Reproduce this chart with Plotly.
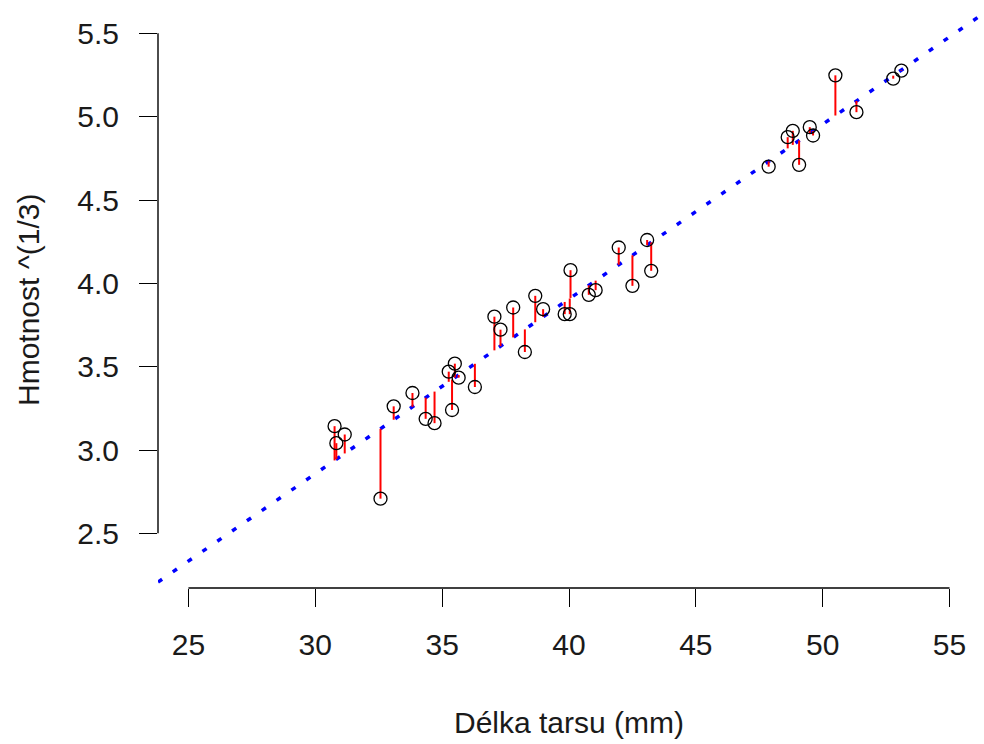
import numpy as np
import plotly.graph_objects as go

# ---- data ----
tarsus_mm = [30.76, 31.16, 30.83, 32.57, 33.09, 33.83, 34.35, 34.70,
             35.26, 35.50, 35.65, 35.39, 36.29, 37.06, 37.30, 37.80, 38.26, 38.67, 38.98,
             40.06, 39.83, 40.03, 40.78, 41.05, 41.96, 42.50, 43.08, 43.24,
             47.87, 49.07, 48.62, 48.82, 49.49, 49.62, 50.50, 51.33, 52.78, 53.10]
mass_cbrt = [3.143, 3.093, 3.041, 2.708, 3.262, 3.342, 3.187, 3.161,
             3.470, 3.518, 3.434, 3.240, 3.378, 3.800, 3.722, 3.855, 3.588, 3.925, 3.845,
             4.079, 3.815, 3.815, 3.931, 3.959, 4.215, 3.985, 4.260, 4.075,
             4.700, 4.711, 4.877, 4.915, 4.937, 4.887, 5.248, 5.027, 5.228, 5.276]
x_ticks = [25, 30, 35, 40, 45, 50, 55]
y_ticks = [2.5, 3.0, 3.5, 4.0, 4.5, 5.0, 5.5]
x_title = "Délka tarsu (mm)"
y_title = "Hmotnost ^(1/3)"

x_range = [23.8, 56.2]
y_range = [2.172, 5.628]

x = np.array(tarsus_mm)
y = np.array(mass_cbrt)
slope, intercept = np.polyfit(x, y, 1)
fitted = intercept + slope * x

FONT = "Liberation Sans, Arial, sans-serif"
fig = go.Figure()

# regression line (abline)
lx = np.array(x_range)
fig.add_trace(go.Scatter(x=lx, y=intercept + slope * lx, mode="lines",
                         line=dict(color="blue", width=3.5, dash="5px,13px"),
                         hoverinfo="skip", showlegend=False))

# residual segments
sx, sy = [], []
for xi, yi, fi in zip(x, y, fitted):
    sx += [xi, xi, None]
    sy += [yi, fi, None]
fig.add_trace(go.Scatter(x=sx, y=sy, mode="lines",
                         line=dict(color="red", width=2),
                         hoverinfo="skip", showlegend=False))

# points
fig.add_trace(go.Scatter(x=x, y=y, mode="markers",
                         marker=dict(symbol="circle-open", size=13,
                                     line=dict(color="black", width=1.3), color="black"),
                         showlegend=False))

axis_font = dict(family=FONT, size=30, color="#1a1a1a")
fig.update_xaxes(range=x_range, tickvals=x_ticks, ticktext=[str(v) for v in x_ticks],
                 ticks="outside", ticklen=18, tickwidth=1.4, tickcolor="black",
                 showline=False, showgrid=False, zeroline=False,
                 tickfont=axis_font, ticklabelstandoff=12)
fig.update_yaxes(range=y_range, tickvals=y_ticks, ticktext=[f"{v:.1f}" for v in y_ticks],
                 ticks="outside", ticklen=18, tickwidth=1.4, tickcolor="black",
                 showline=False, showgrid=False, zeroline=False,
                 tickfont=axis_font, ticklabelstandoff=14)

# R-style axis lines spanning first to last tick
fig.add_shape(type="line", xref="x", yref="paper", x0=x_ticks[0], x1=x_ticks[-1],
              y0=0, y1=0, line=dict(color="black", width=1.4))
fig.add_shape(type="line", xref="paper", yref="y", x0=0, x1=0,
              y0=y_ticks[0], y1=y_ticks[-1], line=dict(color="black", width=1.4))

fig.add_annotation(text=x_title, xref="paper", yref="paper", x=0.5, y=0,
                   xanchor="center", yanchor="middle", yshift=-134, showarrow=False,
                   font=axis_font)
fig.add_annotation(text=y_title, xref="paper", yref="paper", x=0, y=0.5,
                   xanchor="center", yanchor="middle", xshift=-130, textangle=-90,
                   showarrow=False, font=axis_font)

fig.update_layout(width=984, height=744,
                  margin=dict(l=158, r=4, t=12, b=156),
                  paper_bgcolor="white", plot_bgcolor="white",
                  font=dict(family=FONT))
fig.write_html("out.html")
